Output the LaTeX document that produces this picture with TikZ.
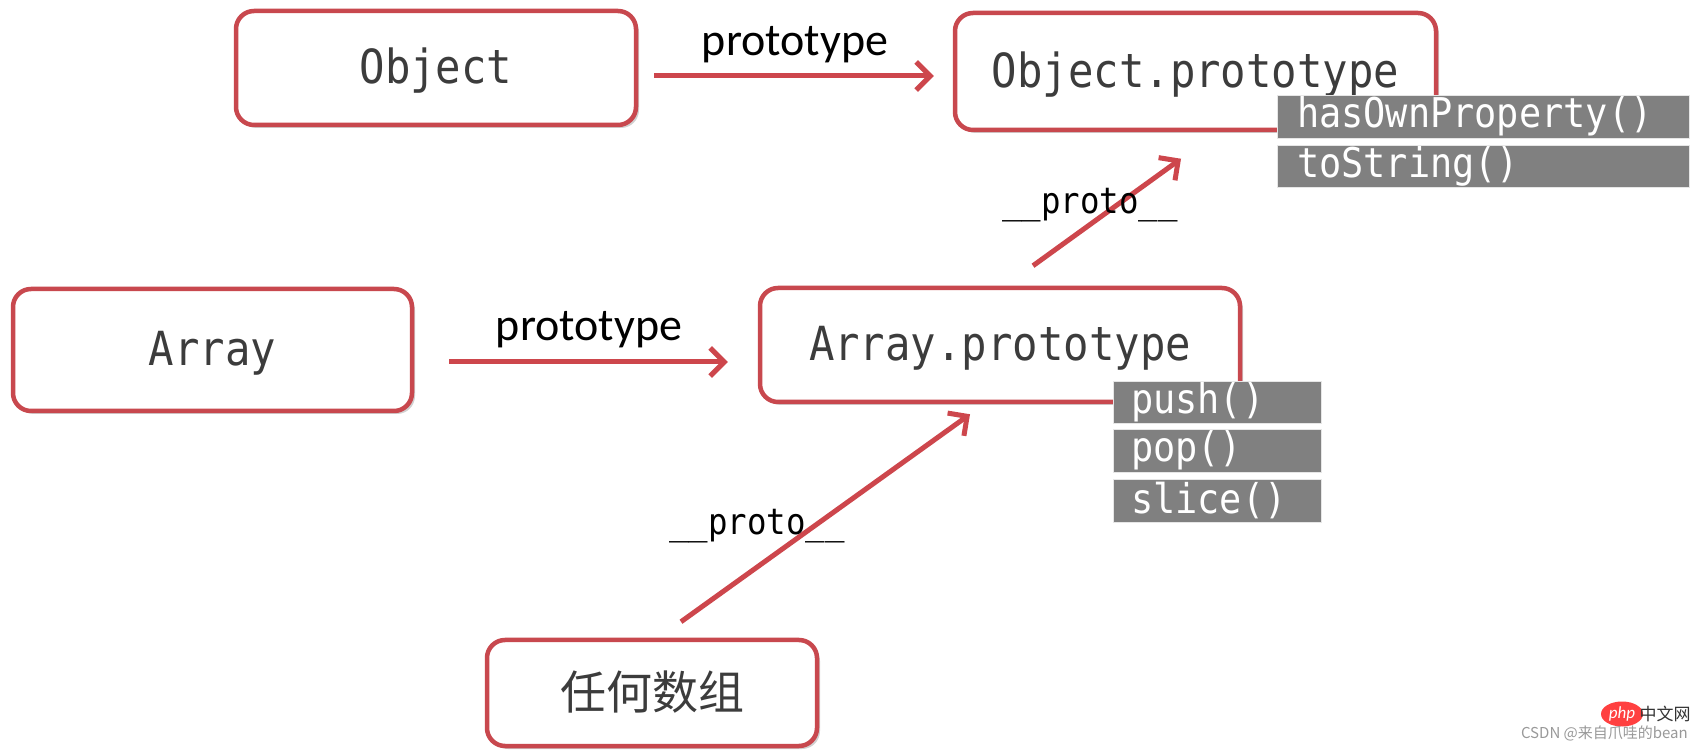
\documentclass[tikz,border=0pt]{standalone}
\usepackage{fontspec}
\usetikzlibrary{arrows.meta,shadows,shapes.geometric}
\newfontfamily\monofont[FakeStretch=0.9]{DejaVu Sans Mono}
\newfontfamily\lblfont{Carlito}
\newfontfamily\cjkfont{Noto Sans CJK SC}
\definecolor{boxred}{RGB}{200,72,78}
\definecolor{arrred}{RGB}{205,70,76}
\definecolor{txtgray}{RGB}{60,60,60}
\definecolor{methgray}{RGB}{128,128,128}
\tikzset{
  objbox/.style={draw=boxred, line width=4.5pt, rounded corners=18pt, fill=white,
    text=txtgray, font=\monofont\fontsize{47}{52}\selectfont,
    text height=41pt, text depth=9pt,
    drop shadow={shadow xshift=3pt, shadow yshift=-3pt, opacity=0.18, fill=black}},
  methbox/.style={fill=methgray, draw=white!80!methgray, line width=0.8pt,
    text=white, font=\monofont\fontsize{41}{44}\selectfont,
    inner xsep=20pt, inner ysep=0pt, align=left},
  conn/.style={draw=arrred, line width=5pt,
    -{Straight Barb[length=14pt,width=28pt,line width=5pt]}},
  protolbl/.style={font=\lblfont\fontsize{46}{50}\selectfont, text=black},
  dunderlbl/.style={font=\monofont\fontsize{36}{40}\selectfont, text=black}
}
\begin{document}
\begin{tikzpicture}[x=1pt,y=1pt]
\useasboundingbox (0,0) rectangle (1696,752);
\fill[white] (0,0) rectangle (1696,752);

% boxes
\node[objbox, minimum width=400pt, minimum height=114pt] (obj) at (436,684) {Object};
\node[objbox, minimum width=481pt, minimum height=117pt] (objp) at (1195.5,680.5) {Object.prototype};
\node[objbox, minimum width=399pt, minimum height=122pt] (arr) at (212.5,402) {Array};
\node[objbox, minimum width=480pt, minimum height=114pt] (arrp) at (1000,407) {Array.prototype};
\node[objbox, minimum width=330pt, minimum height=106pt, font=\cjkfont\fontsize{46}{52}\selectfont] (any) at (652,59) {任何数组};

% method boxes
\node[methbox, minimum height=43pt, text width=372pt] (hop) at (1483,635.5) {hasOwnProperty()};
\node[methbox, minimum height=42pt, text width=372pt] (tos) at (1483,586) {toString()};
\node[methbox, minimum height=42pt, text width=172pt, inner xsep=18pt] (push) at (1217,350) {push()};
\node[methbox, minimum height=43pt, text width=172pt, inner xsep=18pt] (pop) at (1217,301.5) {pop()};
\node[methbox, minimum height=43pt, text width=172pt, inner xsep=18pt] (slice) at (1217,251.5) {slice()};

% connectors
\draw[conn] ([shift={(16pt,-8pt)}]obj.east) -- ([shift={(-19pt,-4.5pt)}]objp.west);
\draw[conn] ([shift={(35pt,-12pt)}]arr.east) -- ([shift={(-30pt,-17pt)}]arrp.west);
\draw[conn] ([shift={(33pt,20pt)}]arrp.north) -- ([shift={(-14.5pt,-26.5pt)}]objp.south);
\draw[conn] ([shift={(29pt,16pt)}]any.north) -- ([shift={(-30pt,-10pt)}]arrp.south);

% labels
\node[protolbl] (l1) at (795,707) {prototype};
\node[protolbl] (l2) at (589,422) {prototype};
\node[dunderlbl] (l3) at (1090,547) {\_\_proto\_\_};
\node[dunderlbl] (l4) at (757,226) {\_\_proto\_\_};

% watermark
\node[fill=red!75!white, ellipse, minimum width=42pt, minimum height=25pt, inner sep=0pt] (phplogo) at (1622,38) {};
\node[text=white, font=\lblfont\itshape\fontsize{17}{18}\selectfont] (phptxt) at (1622,38) {php};
\node[text=black!80, font=\cjkfont\fontsize{17}{18}\selectfont] (zwn) at (1665,38) {中文网};
\node[text=black!40, font=\cjkfont\fontsize{15}{16}\selectfont, anchor=east, inner sep=0pt] (csdn) at (1688,19) {CSDN @来自爪哇的bean};
\end{tikzpicture}
\end{document}
